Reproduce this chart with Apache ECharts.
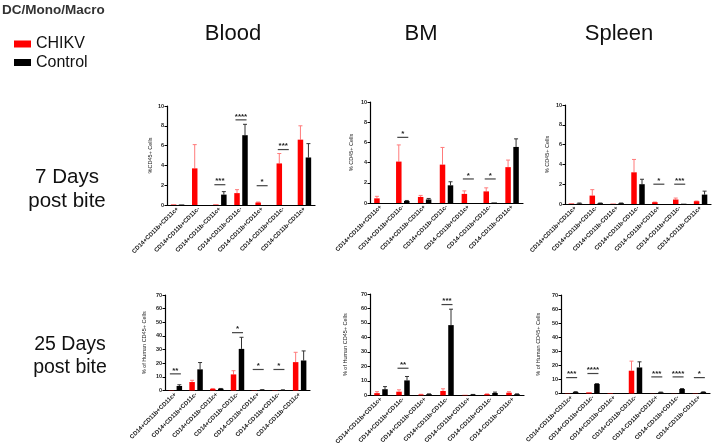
<!DOCTYPE html>
<html><head><meta charset="utf-8">
<script src="https://cdn.jsdelivr.net/npm/echarts@6/dist/echarts.min.js"></script>
<style>html,body{margin:0;padding:0;background:#fff}#c{width:716px;height:447px}</style>
</head><body><div id="c"></div>
<script>
const categories = ['CD14+CD11b+CD11c+','CD14+CD11b+CD11c-','CD14+CD11b-CD11c+','CD14+CD11b-CD11c-','CD14-CD11b+CD11c+','CD14-CD11b+CD11c-','CD14-CD11b-CD11c+'];
const seriesNames = ['CHIKV','Control'];
const columnTitles = ['Blood','BM','Spleen'];
const rowTitles = [['7 Days','post bite'],['25 Days','post bite']];
const yTicksDay7 = [0,2,4,6,8,10];
const yTicksDay25 = [0,10,20,30,40,50,60,70];
const yNameDay7 = ['%CD45+ Cells','% CD45+ Cells','% CD45+ Cells'];
const yNameDay25 = ['% of Human CD45+ Cells','% of Human CD45+ Cells','% of Human CD45+ Cells'];

// 7 days post bite
const blood7Chikv      = [0.05, 3.7, 0.05, 1.2, 0.25, 4.2, 6.6];
const blood7ChikvTop   = [0.05, 6.1, 0.05, 1.55, 0.3, 5.2, 8.0];
const blood7Control    = [0.05, 0, 1.05, 7.05, 0, 0, 4.8];
const blood7ControlTop = [0.05, 0, 1.35, 8.15, 0, 0, 6.2];
const blood7Sig        = [[2, 2.05, '***'], [3, 8.6, '****'], [4, 1.95, '*'], [5, 5.6, '***']];

const bm7Chikv      = [0.46, 4.1, 0.6, 3.8, 0.9, 1.15, 3.55];
const bm7ChikvTop   = [0.66, 5.75, 0.75, 5.5, 1.2, 1.5, 4.25];
const bm7Control    = [0, 0.2, 0.35, 1.75, 0, 0.05, 5.55];
const bm7ControlTop = [0, 0.25, 0.45, 2.1, 0, 0.05, 6.35];
const bm7Sig        = [[1, 6.5, '*'], [4, 2.38, '*'], [5, 2.38, '*']];

const spleen7Chikv      = [0.05, 0.85, 0.03, 3.2, 0.18, 0.45, 0.28];
const spleen7ChikvTop   = [0.05, 1.45, 0.03, 4.5, 0.2, 0.6, 0.3];
const spleen7Control    = [0.05, 0.08, 0.08, 2.0, 0, 0.03, 0.95];
const spleen7ControlTop = [0.1, 0.1, 0.1, 2.5, 0, 0.03, 1.3];
const spleen7Sig        = [[4, 2.0, '*'], [5, 2.0, '***']];

// 25 days post bite
const blood25Chikv      = [0.2, 6.2, 1.2, 11.8, 0.2, 0.2, 20.8];
const blood25ChikvTop   = [0.2, 7.5, 1.5, 14.5, 0.2, 0.2, 28];
const blood25Control    = [3.3, 15.5, 1.3, 30.5, 0.5, 0.4, 22];
const blood25ControlTop = [4.2, 20.5, 1.5, 39, 0.6, 0.5, 29];
const blood25Sig        = [[0, 12.2, '**'], [3, 42.4, '*'], [4, 15.4, '*'], [5, 15.4, '*']];

const bm25Chikv      = [1.5, 2.5, 0.5, 3.0, 0.3, 0.8, 1.8];
const bm25ChikvTop   = [2.5, 3.8, 0.7, 4.5, 0.3, 1.0, 2.5];
const bm25Control    = [4.2, 10.3, 0.8, 48.5, 0.5, 1.6, 0.8];
const bm25ControlTop = [6, 13, 1, 59.5, 0.6, 2.2, 1];
const bm25Sig        = [[1, 18.7, '**'], [3, 62.7, '***']];

const spleen25Chikv      = [0.2, 0.8, 0.3, 16.2, 0.1, 0.1, 0.2];
const spleen25ChikvTop   = [0.2, 0.8, 0.3, 23, 0.1, 0.1, 0.2];
const spleen25Control    = [1.0, 6.8, 0.3, 18.5, 0.8, 3.2, 1.0];
const spleen25ControlTop = [1.3, 7.0, 0.3, 22.5, 1.0, 3.5, 1.2];
const spleen25Sig        = [[0, 11.3, '***'], [1, 14.2, '****'], [4, 11.8, '***'], [5, 11.8, '****'], [6, 11.3, '*']];

const panels = [
  {c: blood7Chikv, ct: blood7ChikvTop, k: blood7Control, kt: blood7ControlTop, s: blood7Sig, ticks: yTicksDay7, name: yNameDay7[0]},
  {c: bm7Chikv, ct: bm7ChikvTop, k: bm7Control, kt: bm7ControlTop, s: bm7Sig, ticks: yTicksDay7, name: yNameDay7[1]},
  {c: spleen7Chikv, ct: spleen7ChikvTop, k: spleen7Control, kt: spleen7ControlTop, s: spleen7Sig, ticks: yTicksDay7, name: yNameDay7[2]},
  {c: blood25Chikv, ct: blood25ChikvTop, k: blood25Control, kt: blood25ControlTop, s: blood25Sig, ticks: yTicksDay25, name: yNameDay25[0]},
  {c: bm25Chikv, ct: bm25ChikvTop, k: bm25Control, kt: bm25ControlTop, s: bm25Sig, ticks: yTicksDay25, name: yNameDay25[1]},
  {c: spleen25Chikv, ct: spleen25ChikvTop, k: spleen25Control, kt: spleen25ControlTop, s: spleen25Sig, ticks: yTicksDay25, name: yNameDay25[2]}
];

// layout (px)
const gridBoxes = [
  [167, 106, 148, 99],
  [370, 102, 153, 101],
  [565, 105, 146, 99],
  [165, 295, 145, 95.5],
  [370, 294, 154, 102],
  [561, 295, 149, 98.5]
];
const nameGaps = [13, 16, 14.5, 18, 22, 20];
const RED = '#ff0000', BLACK = '#000000';
const BAR_W = 5.5, HALF_OFF = 4;
const FONT = 'Liberation Sans, Arial, sans-serif';

const grid = [], xAxis = [], yAxis = [], series = [];
panels.forEach((p, i) => {
  const b = gridBoxes[i];
  grid.push({left: b[0], top: b[1], width: b[2], height: b[3], containLabel: false});
  xAxis.push({
    type: 'category', gridIndex: i, data: categories,
    axisLine: {lineStyle: {color: '#000', width: 1.2}},
    axisTick: {show: false},
    axisLabel: {interval: 0, rotate: 45, fontSize: 6, fontWeight: 'bold', color: '#111', margin: 3, fontFamily: FONT}
  });
  const t = p.ticks;
  yAxis.push({
    type: 'value', gridIndex: i, min: t[0], max: t[t.length - 1], interval: t[1] - t[0],
    name: p.name, nameLocation: 'middle', nameGap: nameGaps[i],
    nameTextStyle: {fontSize: 5.5, color: '#222', fontFamily: FONT},
    splitLine: {show: false},
    axisLine: {show: true, lineStyle: {color: '#000', width: 1.2}},
    axisTick: {show: true, length: 2.5, lineStyle: {color: '#000', width: 1}},
    axisLabel: {fontSize: 5.5, fontWeight: 'bold', color: '#222', margin: 3, fontFamily: FONT}
  });
  series.push({
    name: seriesNames[0], type: 'bar', xAxisIndex: i, yAxisIndex: i, data: p.c,
    barWidth: BAR_W, barGap: '45%', itemStyle: {color: RED}, z: 3
  });
  series.push({
    name: seriesNames[1], type: 'bar', xAxisIndex: i, yAxisIndex: i, data: p.k,
    barWidth: BAR_W, barGap: '45%', itemStyle: {color: BLACK}, z: 3
  });
  const errData = [];
  p.c.forEach((v, j) => errData.push([j, v, p.ct[j], 0]));
  p.k.forEach((v, j) => errData.push([j, v, p.kt[j], 1]));
  series.push({
    type: 'custom', xAxisIndex: i, yAxisIndex: i, data: errData, z: 2,
    encode: {x: 0, y: 1}, silent: true,
    renderItem: function (params, api) {
      const cat = api.value(0), v = api.value(1), top = api.value(2), side = api.value(3);
      if (!(top > v)) return null;
      const p0 = api.coord([cat, v]), p1 = api.coord([cat, top]);
      const x = p0[0] + (side ? HALF_OFF : -HALF_OFF);
      const col = side ? '#333' : '#ff7b7b';
      return {type: 'group', children: [
        {type: 'line', shape: {x1: x, y1: p0[1], x2: x, y2: p1[1]}, style: {stroke: col, lineWidth: 1}},
        {type: 'line', shape: {x1: x - 2, y1: p1[1], x2: x + 2, y2: p1[1]}, style: {stroke: col, lineWidth: 1}}
      ]};
    }
  });
  const sig = p.s;
  series.push({
    type: 'custom', xAxisIndex: i, yAxisIndex: i, z: 4, silent: true,
    data: sig.map(d => [d[0], d[1]]), encode: {x: 0, y: 1},
    renderItem: function (params, api) {
      const pt = api.coord([api.value(0), api.value(1)]);
      const label = sig[params.dataIndex][2];
      return {type: 'group', children: [
        {type: 'line', shape: {x1: pt[0] - 5.5, y1: pt[1], x2: pt[0] + 5.5, y2: pt[1]}, style: {stroke: '#444', lineWidth: 1.2}},
        {type: 'text', style: {text: label, x: pt[0], y: pt[1] + 0.5, textAlign: 'center', textVerticalAlign: 'bottom',
          font: 'bold 8px ' + FONT, fill: '#222'}}
      ]};
    }
  });
});

const graphic = [
  {type: 'text', left: 2, top: 3, style: {text: 'DC/Mono/Macro', font: 'bold 13.5px ' + FONT, fill: '#333'}},
  {type: 'text', x: 233, y: 34, style: {text: columnTitles[0], font: '22px ' + FONT, fill: '#111', textAlign: 'center', textVerticalAlign: 'middle'}},
  {type: 'text', x: 421, y: 34, style: {text: columnTitles[1], font: '22px ' + FONT, fill: '#111', textAlign: 'center', textVerticalAlign: 'middle'}},
  {type: 'text', x: 619, y: 34, style: {text: columnTitles[2], font: '22px ' + FONT, fill: '#111', textAlign: 'center', textVerticalAlign: 'middle'}},
  {type: 'text', x: 67, y: 177, style: {text: rowTitles[0][0], font: '20.5px ' + FONT, fill: '#111', textAlign: 'center', textVerticalAlign: 'middle'}},
  {type: 'text', x: 67, y: 201, style: {text: rowTitles[0][1], font: '20.5px ' + FONT, fill: '#111', textAlign: 'center', textVerticalAlign: 'middle'}},
  {type: 'text', x: 70, y: 345, style: {text: rowTitles[1][0], font: '19.5px ' + FONT, fill: '#111', textAlign: 'center', textVerticalAlign: 'middle'}},
  {type: 'text', x: 70, y: 368, style: {text: rowTitles[1][1], font: '19.5px ' + FONT, fill: '#111', textAlign: 'center', textVerticalAlign: 'middle'}}
];

const chart = echarts.init(document.getElementById('c'), null, {renderer: 'canvas'});
chart.setOption({
  animation: false,
  backgroundColor: '#fff',
  textStyle: {fontFamily: FONT},
  legend: {
    data: seriesNames, orient: 'vertical', left: 14, top: 36, padding: 0, itemGap: 2.5,
    icon: 'rect', itemWidth: 17, itemHeight: 7,
    textStyle: {fontSize: 16, color: '#111', fontFamily: FONT}
  },
  graphic: graphic,
  grid: grid, xAxis: xAxis, yAxis: yAxis, series: series
});
</script>
</body></html>
